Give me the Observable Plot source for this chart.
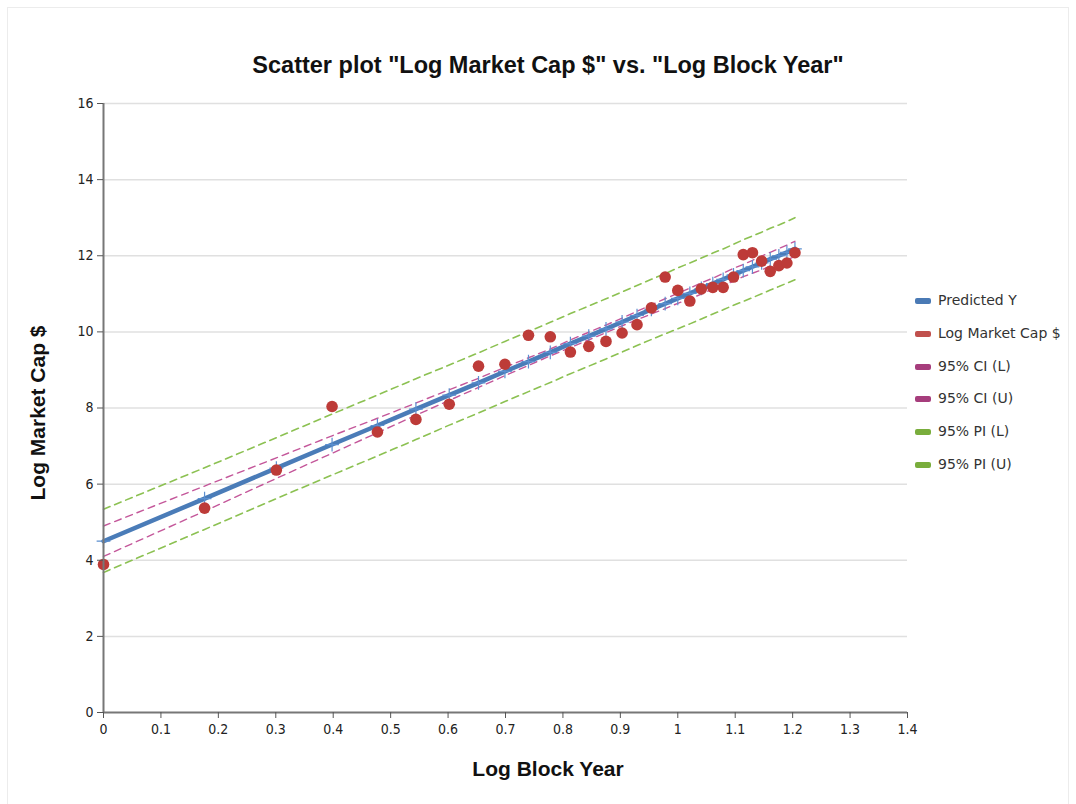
<!DOCTYPE html>
<html>
<head>
<meta charset="utf-8">
<script src="https://cdn.jsdelivr.net/npm/d3@7"></script>
<script src="https://cdn.jsdelivr.net/npm/@observablehq/plot@0.6"></script>
<style>
  html, body { margin: 0; padding: 0; background: #fff; }
  #wrap { position: relative; width: 1076px; height: 804px; overflow: hidden; }
  #frame { position: absolute; left: 7px; top: 7px; width: 1062px; height: 800px; border: 1px solid #ececec; box-sizing: border-box; }
  #chart { position: absolute; left: 0; top: 0; }
  .title { position: absolute; left: 0; width: 1096px; top: 52px; text-align: center; font: bold 23.5px "Liberation Sans", Arial, sans-serif; color: #111; }
  .xlab { position: absolute; left: 0; width: 1096px; top: 757px; text-align: center; font: bold 21px "Liberation Sans", Arial, sans-serif; color: #111; }
  .ylab { position: absolute; left: 38px; top: 413px; transform: translate(-50%, -50%) rotate(-90deg); white-space: nowrap; font: bold 21px "Liberation Sans", Arial, sans-serif; color: #111; }
  #legend { position: absolute; left: 915px; top: 292px; font: 14px "DejaVu Sans", Verdana, sans-serif; color: #333; }
  .item { height: 32.8px; display: flex; align-items: flex-start; }
  .sw { width: 16px; height: 6px; border-radius: 2px; margin-top: 6px; margin-right: 7px; }
</style>
</head>
<body>
<div id="wrap">
  <div id="frame"></div>
  <div id="chart"></div>
  <div class="title">Scatter plot "Log Market Cap $" vs. "Log Block Year"</div>
  <div class="xlab">Log Block Year</div>
  <div class="ylab">Log Market Cap $</div>
  <div id="legend"></div>
</div>
<script>
// Log Block Year (x) values
const logBlockYear = [0, 0.176, 0.301, 0.398, 0.477, 0.544, 0.602, 0.653, 0.699, 0.740, 0.778, 0.813, 0.845, 0.875, 0.903, 0.929, 0.954, 0.978, 1.0, 1.021, 1.041, 1.061, 1.079, 1.097, 1.114, 1.130, 1.146, 1.161, 1.176, 1.190, 1.204];
// Observed Log Market Cap $
const logMarketCap = [3.89, 5.37, 6.37, 8.04, 7.37, 7.70, 8.10, 9.10, 9.15, 9.91, 9.87, 9.47, 9.62, 9.75, 9.97, 10.19, 10.63, 11.44, 11.09, 10.81, 11.13, 11.17, 11.17, 11.44, 12.03, 12.08, 11.86, 11.59, 11.74, 11.81, 12.08];
// Predicted Y
const predictedY = [4.50, 5.62, 6.42, 7.04, 7.54, 7.97, 8.34, 8.66, 8.96, 9.22, 9.46, 9.69, 9.89, 10.08, 10.26, 10.43, 10.59, 10.74, 10.88, 11.01, 11.14, 11.27, 11.38, 11.50, 11.61, 11.71, 11.81, 11.91, 12.00, 12.09, 12.18];
// 95% CI lower / upper
const ciLower = [4.10, 5.29, 6.15, 6.81, 7.35, 7.81, 8.20, 8.54, 8.85, 9.12, 9.37, 9.59, 9.79, 9.98, 10.16, 10.32, 10.47, 10.61, 10.75, 10.87, 10.99, 11.13, 11.22, 11.33, 11.45, 11.54, 11.63, 11.73, 11.81, 11.90, 11.98];
const ciUpper = [4.90, 5.95, 6.69, 7.27, 7.73, 8.13, 8.48, 8.78, 9.07, 9.32, 9.55, 9.79, 9.99, 10.18, 10.36, 10.54, 10.71, 10.87, 11.01, 11.15, 11.29, 11.41, 11.54, 11.67, 11.77, 11.88, 11.99, 12.09, 12.19, 12.28, 12.38];
// 95% PI lower / upper
const piLower = [3.68, 4.81, 5.62, 6.24, 6.74, 7.17, 7.55, 7.87, 8.17, 8.43, 8.67, 8.90, 9.10, 9.29, 9.47, 9.64, 9.80, 9.95, 10.08, 10.21, 10.34, 10.47, 10.58, 10.70, 10.80, 10.90, 11.00, 11.10, 11.19, 11.28, 11.37];
const piUpper = [5.34, 6.43, 7.22, 7.84, 8.34, 8.77, 9.13, 9.45, 9.75, 10.01, 10.25, 10.48, 10.68, 10.87, 11.05, 11.22, 11.38, 11.53, 11.68, 11.81, 11.94, 12.07, 12.18, 12.30, 12.42, 12.52, 12.62, 12.72, 12.81, 12.90, 13.00];

const legendLabels = ["Predicted Y", "Log Market Cap $", "95% CI (L)", "95% CI (U)", "95% PI (L)", "95% PI (U)"];
const legendColors = ["#4a7ab5", "#c0504d", "#a63d7c", "#a63d7c", "#79ad3c", "#79ad3c"];

const rows = logBlockYear.map((x, i) => ({
  x, obs: logMarketCap[i], pred: predictedY[i],
  ciL: ciLower[i], ciU: ciUpper[i], piL: piLower[i], piU: piUpper[i]
}));

const blue = "#4a7cb8", red = "#bd3b38", pink = "#c4579a", green = "#8cc152";
const fmt = d3.format("~g");

const chart = Plot.plot({
  width: 1076,
  height: 804,
  marginLeft: 103,
  marginRight: 169,
  marginTop: 103,
  marginBottom: 92,
  style: { fontFamily: "'DejaVu Sans Condensed', 'DejaVu Sans', sans-serif", fontSize: "13px", color: "#222", background: "transparent" },
  x: { domain: [0, 1.4] },
  y: { domain: [0, 16] },
  marks: [
    Plot.gridY({ ticks: d3.range(2, 17, 2), stroke: "#e0e0e0", strokeOpacity: 1, strokeWidth: 1.5 }),
    Plot.line(rows, { x: "x", y: "piL", stroke: green, strokeWidth: 1.6, strokeDasharray: "7,5" }),
    Plot.line(rows, { x: "x", y: "piU", stroke: green, strokeWidth: 1.6, strokeDasharray: "7,5" }),
    Plot.line(rows, { x: "x", y: "ciL", stroke: pink, strokeWidth: 1.4, strokeDasharray: "7,5" }),
    Plot.line(rows, { x: "x", y: "ciU", stroke: pink, strokeWidth: 1.4, strokeDasharray: "7,5" }),
    Plot.line(rows, { x: "x", y: "pred", stroke: blue, strokeWidth: 4.5 }),
    Plot.dot(rows, { x: "x", y: "pred", symbol: "plus", r: 4.5, stroke: "#5b8fd0", strokeWidth: 1.2 }),
    Plot.dot(rows, { x: "x", y: "obs", r: 5.8, fill: red, stroke: "none" }),
    Plot.ruleX([0], { stroke: "#777", strokeWidth: 2 }),
    Plot.ruleY([0], { stroke: "#777", strokeWidth: 2 }),
    Plot.axisY({ ticks: d3.range(0, 17, 2), tickSize: 6, tickPadding: 4, label: null, stroke: "#555", fontSize: 14, tickFormat: fmt }),
    Plot.axisX({ ticks: d3.range(0, 15).map(i => i / 10), tickSize: 6, tickPadding: 6, label: null, stroke: "#555", fontSize: 14, tickFormat: fmt })
  ]
});
document.getElementById("chart").appendChild(chart);

const legend = document.getElementById("legend");
legendLabels.forEach((t, i) => {
  const it = document.createElement("div");
  it.className = "item";
  const sw = document.createElement("div");
  sw.className = "sw";
  sw.style.background = legendColors[i];
  const tx = document.createElement("span");
  tx.textContent = t;
  it.appendChild(sw); it.appendChild(tx);
  legend.appendChild(it);
});
</script>
</body>
</html>
